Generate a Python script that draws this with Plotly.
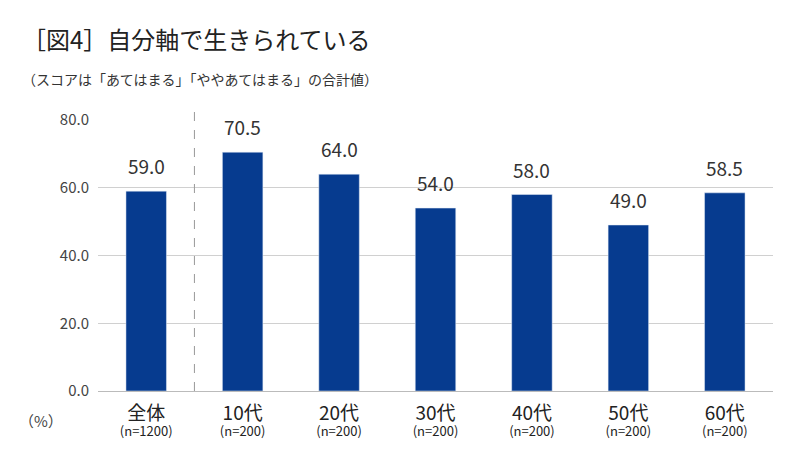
import plotly.graph_objects as go

categories = ["全体", "10代", "20代", "30代", "40代", "50代", "60代"]
samples = ["(n=1200)", "(n=200)", "(n=200)", "(n=200)", "(n=200)", "(n=200)", "(n=200)"]
values = [59.0, 70.5, 64.0, 54.0, 58.0, 49.0, 58.5]
yticks = [0, 20, 40, 60, 80]

F = "Noto Sans CJK JP"
ticktext = [f"<span style='font-size:19px'>{c}</span><br><span style='font-size:13px'>{s}</span>" for c, s in zip(categories, samples)]

fig = go.Figure(go.Bar(
    x=list(range(len(categories))), y=values, width=0.42,
    marker_color="#063b8f",
))
labels = [dict(x=i, y=v, xref="x", yref="y", text=f"{v:.1f}", showarrow=False,
               yanchor="bottom", yshift=10, font=dict(size=19, color="#333"))
          for i, v in enumerate(values)]
fig.update_layout(
    width=800, height=463, plot_bgcolor="white", paper_bgcolor="white",
    margin=dict(l=90, r=35, t=112, b=80), showlegend=False,
    font=dict(family=F, color="#222"),
    xaxis=dict(tickmode="array", tickvals=list(range(len(categories))), ticktext=ticktext,
               range=[-0.5, 6.5], showgrid=False, showline=True, linecolor="#bbb", ticks="",
               ticklabelstandoff=14),
    yaxis=dict(range=[0, 80], tickvals=yticks, ticktext=[f"{t:.1f}" for t in yticks],
               showgrid=True, gridcolor="#d0d0d0", zeroline=False, ticks="",
               tickfont=dict(size=15, color="#444"), ticklabelstandoff=8),
    shapes=[dict(type="line", xref="x", yref="paper", x0=0.5, x1=0.5, y0=0, y1=1.03,
                 line=dict(color="#999", width=1, dash="dash"))],
    annotations=labels + [
        dict(text="［図4］自分軸で生きられている", xref="paper", yref="paper", x=-0.115, y=1.30,
             xanchor="left", yanchor="middle", showarrow=False, font=dict(size=24, color="#222")),
        dict(text="（スコアは「あてはまる」「ややあてはまる」の合計値）", xref="paper", yref="paper", x=-0.115, y=1.15,
             xanchor="left", yanchor="middle", showarrow=False, font=dict(size=14, color="#333")),
        dict(text="（%）", xref="paper", yref="paper", x=-0.085, y=-0.11,
             xanchor="center", yanchor="middle", showarrow=False, font=dict(size=15, color="#444")),
    ],
)
fig.write_html("out.html")
